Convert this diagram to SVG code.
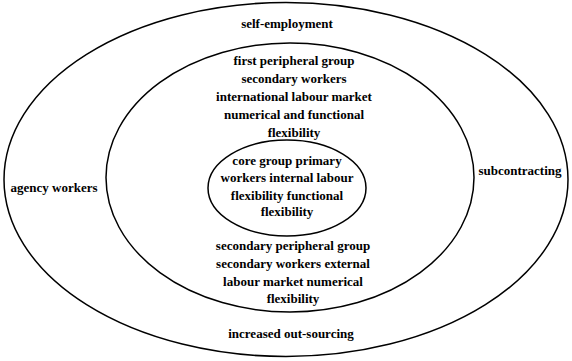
<svg xmlns="http://www.w3.org/2000/svg" width="572" height="361" viewBox="0 0 572 361">
<style>
.e{fill:none;stroke:#000;stroke-width:1.5}
.t{font-family:'Liberation Serif','Times New Roman',serif;font-weight:bold;font-size:13px;fill:#000;text-anchor:middle}
</style>
<rect width="572" height="361" fill="#fff"/>
<g id="outer">
<ellipse class="e" cx="286" cy="179.5" rx="282" ry="177"/>
<g class="t" font-family="Liberation Serif, serif">
<text x="287" y="28">self-employment</text>
<text x="54" y="192">agency workers</text>
<text x="520" y="175">subcontracting</text>
<text x="291" y="338">increased out-sourcing</text>
</g>
</g>
<g id="middle">
<ellipse class="e" cx="290" cy="177.5" rx="184" ry="134.5"/>
<g class="t" font-family="Liberation Serif, serif">
<text x="294" y="65">first peripheral group</text>
<text x="294" y="83">secondary workers</text>
<text x="294" y="101">international labour market</text>
<text x="294" y="119">numerical and functional</text>
<text x="294" y="137">flexibility</text>
<text x="293" y="250">secondary peripheral group</text>
<text x="293" y="268">secondary workers external</text>
<text x="293" y="286">labour market numerical</text>
<text x="293" y="303">flexibility</text>
</g>
</g>
<g id="core">
<ellipse class="e" cx="287" cy="188" rx="79" ry="48"/>
<g class="t" font-family="Liberation Serif, serif">
<text x="287" y="165">core group primary</text>
<text x="287" y="182">workers internal labour</text>
<text x="287" y="200">flexibility functional</text>
<text x="287" y="216">flexibility</text>
</g>
</g>
<g id="connectors"/>
</svg>
